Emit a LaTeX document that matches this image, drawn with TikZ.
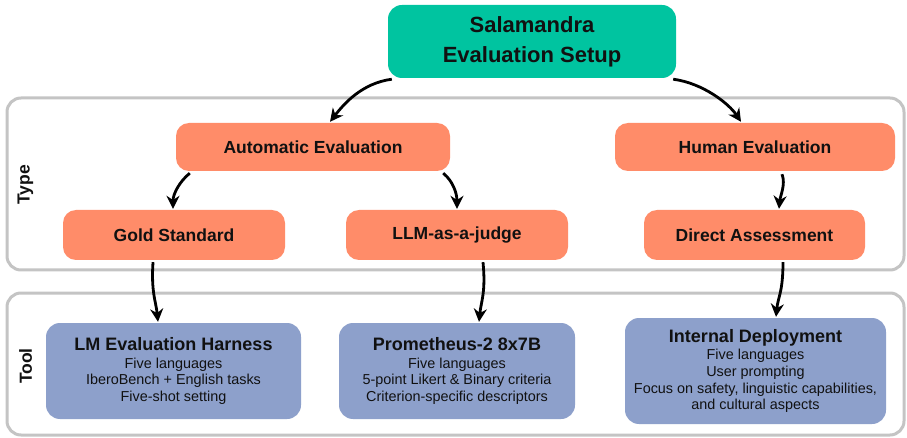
\documentclass[tikz,border=0pt]{standalone}
\usepackage{fontspec}
\setmainfont{Liberation Sans}
\usetikzlibrary{arrows.meta,calc}
\definecolor{tealbox}{HTML}{00C4A0}
\definecolor{salmonbox}{HTML}{FF8C69}
\definecolor{bluebox}{HTML}{8DA0CB}
\definecolor{panelgray}{HTML}{C4C4C4}
\definecolor{txt}{HTML}{111111}
\begin{document}
\begin{tikzpicture}[x=1pt,y=-1pt,
  panel/.style={draw=panelgray, line width=3pt, rounded corners=14pt, fill=white, inner sep=0pt},
  topbox/.style={fill=tealbox, rounded corners=14pt, inner sep=0pt, align=center, text=txt,
     font=\bfseries\fontsize{22}{30}\selectfont},
  typebox/.style={fill=salmonbox, rounded corners=13pt, inner sep=0pt, text=txt,
     font=\bfseries\fontsize{17.5}{20}\selectfont},
  toolbox/.style={fill=bluebox, rounded corners=14pt, inner sep=0pt, align=center, text=txt,
     font=\fontsize{14.4}{16.6}\selectfont},
  sidelbl/.style={rotate=90, text=txt, font=\bfseries\fontsize{17.5}{20}\selectfont},
  arr/.style={draw=black, line width=2.8pt, -{Stealth[length=13pt,width=13pt]}},
]
\useasboundingbox (0,0) rectangle (907,438);

% panels
\node[panel, minimum width=897pt, minimum height=172pt] (typepanel) at (455.5,184) {};
\node[panel, minimum width=897pt, minimum height=142pt] (toolpanel) at (455.5,364) {};
\node[sidelbl] (typelbl) at (25.5,185) {Type};
\node[sidelbl] (toollbl) at (25.5,366) {Tool};

% top
\node[topbox, minimum width=288pt, minimum height=73pt] (top) at (532,41.5) {Salamandra\\Evaluation Setup};

% type level
\node[typebox, minimum width=274pt, minimum height=48pt] (auto) at (313,147) {Automatic Evaluation};
\node[typebox, minimum width=280pt, minimum height=48pt] (human) at (755,147) {Human Evaluation};
\node[typebox, minimum width=222pt, minimum height=50pt] (gold) at (174,235) {Gold Standard};
\node[typebox, minimum width=222pt, minimum height=50pt] (llm) at (457,235) {LLM-as-a-judge};
\node[typebox, minimum width=221pt, minimum height=50pt] (direct) at (754.5,235) {Direct Assessment};

% tool level
\node[toolbox, minimum width=255pt, minimum height=96pt] (lm) at (173.5,371)
  {{\bfseries\fontsize{18}{20}\selectfont LM Evaluation Harness}\\[1pt]
   Five languages\\ IberoBench + English tasks\\ Five-shot setting};
\node[toolbox, minimum width=236pt, minimum height=96pt] (prom) at (457,371)
  {{\bfseries\fontsize{18}{20}\selectfont Prometheus-2 8x7B}\\[1pt]
   Five languages\\ 5-point Likert \& Binary criteria\\ Criterion-specific descriptors};
\node[toolbox, minimum width=261pt, minimum height=106pt] (internal) at (755.5,371)
  {{\bfseries\fontsize{18}{20}\selectfont Internal Deployment}\\[1pt]
   Five languages\\ User prompting\\ Focus on safety, linguistic capabilities,\\ and cultural aspects};

% arrows
\draw[arr] ($(top.south west)+(4,1)$) .. controls +(-30,4) and +(14,-18) .. ($(auto.north)+(17,-1)$);
\draw[arr] ($(top.south east)+(-3,1)$) .. controls +(30,4) and +(-12,-18) .. ($(human.north)+(-14,-1)$);
\draw[arr] ($(auto.south west)+(14,2)$) .. controls +(-10,8) and +(0,-15) .. ($(gold.north)+(-1,-1)$);
\draw[arr] ($(auto.south east)+(-7,2)$) .. controls +(10,8) and +(0,-15) .. ($(llm.north)+(0,-1)$);
\draw[arr] ($(human.south)+(27,3)$) .. controls +(4,10) and +(1,-12) .. ($(direct.north)+(24.5,-1)$);
\draw[arr] ($(gold.south)+(-21,2)$) .. controls +(-2,30) and +(-2,-20) .. ($(lm.north)+(-15.5,-1)$);
\draw[arr] ($(llm.south)+(26,2)$) .. controls +(3,30) and +(2,-20) .. ($(prom.north)+(22,-1)$);
\draw[arr] ($(direct.south)+(28.5,2)$) .. controls +(0,30) and +(2,-20) .. ($(internal.north)+(20.5,-1)$);
\end{tikzpicture}
\end{document}
